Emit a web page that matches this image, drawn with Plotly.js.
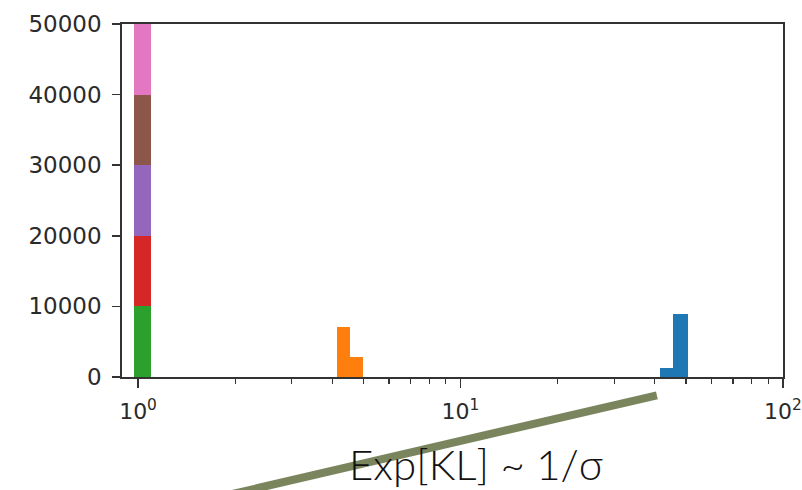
<!DOCTYPE html>
<html>
<head>
<meta charset="utf-8">
<script src="https://cdn.plot.ly/plotly-3.0.1.min.js"></script>
<style>html,body{margin:0;padding:0;background:#fff;}#chart{width:802px;height:490px;}</style>
</head>
<body>
<div id="chart"></div>
<script>
// Histogram data (bin edges on the x scale, counts per bin)
const blueEdges = [41.5, 45.7, 50.9];
const blueCounts = [1300, 8950];
const orangeEdges = [4.13, 4.54, 5.0];
const orangeCounts = [7100, 2800];
const oneEdges = [0.974, 1.095];
const greenCounts = [10000];
const redCounts = [10000];
const purpleCounts = [10000];
const brownCounts = [10000];
const pinkCounts = [10000];
const xTickVals = [1, 10, 100];
const xTickText = ['10<sup>0</sup>', '10<sup>1</sup>', '10<sup>2</sup>'];
const yTickVals = [0, 10000, 20000, 30000, 40000, 50000];
const annotationText = 'Exp[KL] ~ 1/σ';

function centers(edges) {
  const c = [];
  for (let i = 0; i < edges.length - 1; i++) c.push((edges[i] + edges[i + 1]) / 2);
  return c;
}
function widths(edges) {
  const w = [];
  for (let i = 0; i < edges.length - 1; i++) w.push(edges[i + 1] - edges[i]);
  return w;
}
function hist(edges, counts, color) {
  return {type: 'bar', x: centers(edges), y: counts, width: widths(edges),
    marker: {color: color, line: {width: 0}}, hoverinfo: 'skip', showlegend: false};
}

const traces = [
  hist(blueEdges, blueCounts, '#1f77b4'),
  hist(orangeEdges, orangeCounts, '#ff7f0e'),
  hist(oneEdges, greenCounts, '#2ca02c'),
  hist(oneEdges, redCounts, '#d62728'),
  hist(oneEdges, purpleCounts, '#9467bd'),
  hist(oneEdges, brownCounts, '#8c564b'),
  hist(oneEdges, pinkCounts, '#e377c2')
];

const minorVals = [];
[1, 10].forEach(d => { for (let k = 2; k <= 9; k++) minorVals.push(k * d); });

const layout = {
  width: 802, height: 490,
  margin: {l: 122.3, r: 19.3, t: 24, b: 113.3},
  paper_bgcolor: '#ffffff', plot_bgcolor: '#ffffff',
  barmode: 'stack',
  font: {family: 'DejaVu Sans', size: 22, color: '#333333'},
  xaxis: {
    type: 'log', range: [-0.0497, 2],
    tickmode: 'array', tickvals: xTickVals, ticktext: xTickText,
    ticks: 'outside', ticklen: 9, tickwidth: 1.5, tickcolor: '#333333',
    minor: {tickmode: 'array', tickvals: minorVals, ticks: 'outside', ticklen: 5, tickwidth: 1.2, tickcolor: '#333333', showgrid: false},
    showline: true, mirror: true, linecolor: '#333333', linewidth: 1.8,
    showgrid: false, zeroline: false, ticklabelstandoff: 5,
    tickfont: {family: 'DejaVu Sans', size: 22, color: '#2a2a2a'}
  },
  yaxis: {
    range: [0, 50000],
    tickmode: 'array', tickvals: yTickVals, ticktext: yTickVals.map(String),
    ticks: 'outside', ticklen: 8, tickwidth: 1.5, tickcolor: '#333333',
    showline: true, mirror: true, linecolor: '#333333', linewidth: 1.8,
    showgrid: false, zeroline: false, ticklabelstandoff: 6,
    tickfont: {family: 'DejaVu Sans', size: 23, color: '#2a2a2a'}
  },
  shapes: [{
    type: 'line', xref: 'paper', yref: 'paper',
    x0: (205 - 122.3) / 660.4, y0: (376.7 - 500) / 352.7,
    x1: (656.7 - 122.3) / 660.4, y1: (376.7 - 395) / 352.7,
    line: {color: '#7a855e', width: 8}
  }],
  annotations: [{
    xref: 'paper', yref: 'paper', x: (476 - 122.3) / 660.4, y: (376.7 - 464) / 352.7,
    xanchor: 'center', yanchor: 'middle', showarrow: false,
    text: annotationText,
    font: {family: 'Lato', size: 42, color: '#111111', weight: 300}
  }]
};

Plotly.newPlot('chart', traces, layout, {displayModeBar: false, staticPlot: true});
</script>
</body>
</html>
